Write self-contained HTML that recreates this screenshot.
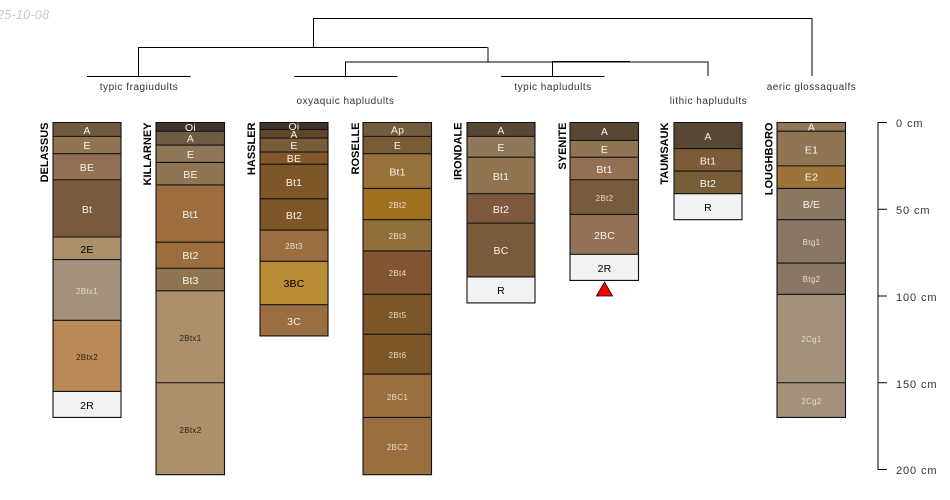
<!DOCTYPE html>
<html><head><meta charset="utf-8">
<style>
html,body{margin:0;padding:0;background:#fff}
svg{display:block}
text{font-family:"Liberation Sans",sans-serif}
.l{font-size:10.5px;fill:#f6f2ec;text-anchor:middle;letter-spacing:.2px}
.s{font-size:8px;fill:#e6dccf;text-anchor:middle;letter-spacing:.3px}
.k{fill:#000}
.d{font-size:8px;fill:#2a2118;text-anchor:middle;letter-spacing:.3px}
.n{font-size:11px;font-weight:bold;fill:#000;text-anchor:end}
.t{font-size:10px;fill:#333;text-anchor:middle;letter-spacing:.53px}
.a{font-size:11px;fill:#333;letter-spacing:.9px}
.c{fill:none;stroke:#000;stroke-width:1}
.o{fill:none;stroke:#111;stroke-width:1.1}
</style></head>
<body>
<svg width="950" height="500" viewBox="0 0 950 500" xmlns="http://www.w3.org/2000/svg">
<text x="-3" y="19" font-size="12.5" font-style="italic" fill="#c8c8c8" letter-spacing=".3">25-10-08</text>

<path class="c" d="M313.5 47.5V18.5H812V76M138.5 76V47.5H487.5M488 47.5V62M345.5 76V62H708V76M552.5 76V61.5H630M87 76.5H190.5M294 76.5H397.5M501 76.5H604.5"/>
<text class="t" x="139" y="90">typic fragiudults</text>
<text class="t" x="345.5" y="104">oxyaquic hapludults</text>
<text class="t" x="553" y="90">typic hapludults</text>
<text class="t" x="708.500" y="104">lithic hapludults</text>
<text class="t" x="811.500" y="90">aeric glossaqualfs</text>

<!-- DELASSUS -->
<g>
<rect x="53" y="122.5" width="68" height="15" fill="#705a3f"/>
<rect x="53" y="136.38" width="68" height="18" fill="#907552"/>
<rect x="53" y="153.73" width="68" height="27" fill="#937053"/>
<rect x="53" y="179.76" width="68" height="58" fill="#785a3c"/>
<rect x="53" y="237.01" width="68" height="23" fill="#ab906a"/>
<rect x="53" y="259.57" width="68" height="61" fill="#a2917b"/>
<rect x="53" y="320.29" width="68" height="72" fill="#ba8958"/>
<rect x="53" y="391.43" width="68" height="26.02" fill="#f2f2f2"/>
<path class="o" d="M53 122.5H121V417.45H53ZM53 136.38H121M53 153.73H121M53 179.76H121M53 237.01H121M53 259.57H121M53 320.29H121M53 391.43H121"/>
<text class="l" x="87" y="134">A</text>
<text class="l" x="87" y="149">E</text>
<text class="l" x="87" y="171">BE</text>
<text class="l" x="87" y="213">Bt</text>
<text class="l k" x="87" y="253">2E</text>
<text class="s" x="87" y="294">2Btx1</text>
<text class="d" x="87" y="360">2Btx2</text>
<text class="l k" x="87" y="409">2R</text>
<text class="n" transform="translate(48,122.500) rotate(-90)">DELASSUS</text>
</g>

<!-- KILLARNEY -->
<g>
<rect x="156" y="122.5" width="68.5" height="10" fill="#40352d"/>
<rect x="156" y="131.18" width="68.5" height="15" fill="#6f5c47"/>
<rect x="156" y="145.06" width="68.5" height="18" fill="#8e7659"/>
<rect x="156" y="162.41" width="68.5" height="23" fill="#8f7553"/>
<rect x="156" y="184.96" width="68.5" height="58" fill="#9c6e3f"/>
<rect x="156" y="242.22" width="68.5" height="27" fill="#9c6e3f"/>
<rect x="156" y="268.24" width="68.5" height="23" fill="#8f7552"/>
<rect x="156" y="290.8" width="68.5" height="92" fill="#ab906a"/>
<rect x="156" y="382.75" width="68.5" height="91.96" fill="#ab906a"/>
<path class="o" d="M156 122.5H224.500V474.71H156ZM156 131.18H224.500M156 145.06H224.500M156 162.41H224.500M156 184.96H224.500M156 242.22H224.500M156 268.24H224.500M156 290.8H224.500M156 382.75H224.500"/>
<text class="l" x="190.500" y="131">Oi</text>
<text class="l" x="190.500" y="142">A</text>
<text class="l" x="190.500" y="158">E</text>
<text class="l" x="190.500" y="178">BE</text>
<text class="l" x="190.500" y="218">Bt1</text>
<text class="l" x="190.500" y="259">Bt2</text>
<text class="l" x="190.500" y="284">Bt3</text>
<text class="d" x="190.500" y="341">2Btx1</text>
<text class="d" x="190.500" y="433">2Btx2</text>
<text class="n" transform="translate(151,122.500) rotate(-90)">KILLARNEY</text>
</g>

<!-- HASSLER -->
<g>
<rect x="260" y="122.5" width="68" height="8" fill="#40352d"/>
<rect x="260" y="129.44" width="68" height="10" fill="#5f4425"/>
<rect x="260" y="138.12" width="68" height="15" fill="#775c38"/>
<rect x="260" y="152" width="68" height="13" fill="#84572a"/>
<rect x="260" y="164.14" width="68" height="35" fill="#7f5629"/>
<rect x="260" y="198.84" width="68" height="32" fill="#7f5629"/>
<rect x="260" y="230.07" width="68" height="32" fill="#9a6e40"/>
<rect x="260" y="261.3" width="68" height="44" fill="#b98c37"/>
<rect x="260" y="304.68" width="68" height="31.22" fill="#9a6e40"/>
<path class="o" d="M260 122.5H328V335.9H260ZM260 129.44H328M260 138.12H328M260 152H328M260 164.14H328M260 198.84H328M260 230.07H328M260 261.3H328M260 304.68H328"/>
<text class="l" x="294" y="130">Oi</text>
<text class="l" x="294" y="138">A</text>
<text class="l" x="294" y="149">E</text>
<text class="l" x="294" y="162">BE</text>
<text class="l" x="294" y="186">Bt1</text>
<text class="l" x="294" y="219">Bt2</text>
<text class="s" x="294" y="249">2Bt3</text>
<text class="l k" x="294" y="287">3BC</text>
<text class="l" x="294" y="325">3C</text>
<text class="n" transform="translate(255,122.500) rotate(-90)">HASSLER</text>
</g>

<!-- ROSELLE -->
<g>
<rect x="363" y="122.5" width="68.5" height="15" fill="#735b3e"/>
<rect x="363" y="136.38" width="68.5" height="18" fill="#785c35"/>
<rect x="363" y="153.73" width="68.5" height="35" fill="#977339"/>
<rect x="363" y="188.43" width="68.5" height="32" fill="#9f711f"/>
<rect x="363" y="219.66" width="68.5" height="32" fill="#907038"/>
<rect x="363" y="250.89" width="68.5" height="44" fill="#835431"/>
<rect x="363" y="294.27" width="68.5" height="41" fill="#7c5629"/>
<rect x="363" y="334.17" width="68.5" height="41" fill="#7d5628"/>
<rect x="363" y="374.08" width="68.5" height="44" fill="#9b6e40"/>
<rect x="363" y="417.45" width="68.5" height="57.26" fill="#9b6e40"/>
<path class="o" d="M363 122.5H431.500V474.71H363ZM363 136.38H431.500M363 153.73H431.500M363 188.43H431.500M363 219.66H431.500M363 250.89H431.500M363 294.27H431.500M363 334.17H431.500M363 374.08H431.500M363 417.45H431.500"/>
<text class="l" x="397.500" y="133.500">Ap</text>
<text class="l" x="397.500" y="149">E</text>
<text class="l" x="397.500" y="175.500">Bt1</text>
<text class="s" x="397.500" y="208">2Bt2</text>
<text class="s" x="397.500" y="239">2Bt3</text>
<text class="s" x="397.500" y="276">2Bt4</text>
<text class="s" x="397.500" y="318">2Bt5</text>
<text class="s" x="397.500" y="358">2Bt6</text>
<text class="s" x="397.500" y="400">2BC1</text>
<text class="s" x="397.500" y="450">2BC2</text>
<text class="n" transform="translate(359,122.500) rotate(-90)">ROSELLE</text>
</g>

<!-- IRONDALE -->
<g>
<rect x="467" y="122.5" width="68" height="15" fill="#574735"/>
<rect x="467" y="136.38" width="68" height="22" fill="#8f7759"/>
<rect x="467" y="157.2" width="68" height="37" fill="#8f7450"/>
<rect x="467" y="193.64" width="68" height="30" fill="#7e583f"/>
<rect x="467" y="223.13" width="68" height="54" fill="#795a3b"/>
<rect x="467" y="276.92" width="68" height="26.02" fill="#f2f2f2"/>
<path class="o" d="M467 122.5H535V302.94H467ZM467 136.38H535M467 157.2H535M467 193.64H535M467 223.13H535M467 276.92H535"/>
<text class="l" x="501" y="134">A</text>
<text class="l" x="501" y="151">E</text>
<text class="l" x="501" y="180">Bt1</text>
<text class="l" x="501" y="213">Bt2</text>
<text class="l" x="501" y="254">BC</text>
<text class="l k" x="501" y="294">R</text>
<text class="n" transform="translate(461.500,122.500) rotate(-90)">IRONDALE</text>
</g>

<!-- SYENITE -->
<g>
<rect x="570" y="122.5" width="68.5" height="19" fill="#574735"/>
<rect x="570" y="140.4" width="68.5" height="18" fill="#907552"/>
<rect x="570" y="157.2" width="68.5" height="23" fill="#937053"/>
<rect x="570" y="179.76" width="68.5" height="35" fill="#785a3c"/>
<rect x="570" y="214.46" width="68.5" height="40" fill="#937256"/>
<rect x="570" y="254.36" width="68.5" height="26.03" fill="#f2f2f2"/>
<path class="o" d="M570 122.5H638.500V280.39H570ZM570 140.4H638.500M570 157.2H638.500M570 179.76H638.500M570 214.46H638.500M570 254.36H638.500"/>
<text class="l" x="604.500" y="135">A</text>
<text class="l" x="604.500" y="153">E</text>
<text class="l" x="604.500" y="173">Bt1</text>
<text class="s" x="604.500" y="201">2Bt2</text>
<text class="l" x="604.500" y="239">2BC</text>
<text class="l k" x="604.500" y="272">2R</text>
<text class="n" transform="translate(566,122.500) rotate(-90)">SYENITE</text>
<polygon points="604.500,282 612.500,296 596.500,296" fill="#f00" stroke="#000" stroke-width="0.8"/>
</g>

<!-- TAUMSAUK -->
<g>
<rect x="674" y="122.5" width="68" height="27" fill="#574735"/>
<rect x="674" y="148.53" width="68" height="23" fill="#7c5a3a"/>
<rect x="674" y="171.08" width="68" height="23" fill="#775c38"/>
<rect x="674" y="193.64" width="68" height="26.02" fill="#f2f2f2"/>
<path class="o" d="M674 122.5H742V219.66H674ZM674 148.53H742M674 171.08H742M674 193.64H742"/>
<text class="l" x="708" y="140">A</text>
<text class="l" x="708" y="164.500">Bt1</text>
<text class="l" x="708" y="187">Bt2</text>
<text class="l k" x="708" y="211">R</text>
<text class="n" transform="translate(668,122.500) rotate(-90)">TAUMSAUK</text>
</g>

<!-- LOUGHBORO -->
<g>
<rect x="777" y="122.5" width="68.5" height="10" fill="#907759"/>
<rect x="777" y="131.18" width="68.5" height="35" fill="#907552"/>
<rect x="777" y="165.88" width="68.5" height="23" fill="#9c7437"/>
<rect x="777" y="188.43" width="68.5" height="32" fill="#8a7862"/>
<rect x="777" y="219.66" width="68.5" height="44" fill="#887762"/>
<rect x="777" y="263.04" width="68.5" height="32" fill="#887762"/>
<rect x="777" y="294.27" width="68.5" height="89" fill="#a2917b"/>
<rect x="777" y="382.75" width="68.5" height="34.7" fill="#a2917b"/>
<path class="o" d="M777 122.5H845.500V417.45H777ZM777 131.18H845.500M777 165.88H845.500M777 188.43H845.500M777 219.66H845.500M777 263.04H845.500M777 294.27H845.500M777 382.75H845.500"/>
<text class="l" x="811.500" y="130.500">A</text>
<text class="l" x="811.500" y="153.500">E1</text>
<text class="l" x="811.500" y="180.500">E2</text>
<text class="l" x="811.500" y="208">B/E</text>
<text class="s" x="811.500" y="245">Btg1</text>
<text class="s" x="811.500" y="282">Btg2</text>
<text class="s" x="811.500" y="342">2Cg1</text>
<text class="s" x="811.500" y="404">2Cg2</text>
<text class="n" transform="translate(772.500,122.500) rotate(-90)">LOUGHBORO</text>
</g>

<!-- depth axis -->
<path class="c" d="M887 122.500H878V469.500H887M878 209.250H887M878 296H887M878 382.750H887"/>
<text class="a" x="896" y="127">0 cm</text>
<text class="a" x="896" y="214">50 cm</text>
<text class="a" x="896" y="301">100 cm</text>
<text class="a" x="896" y="388">150 cm</text>
<text class="a" x="896" y="474">200 cm</text>
</svg>
</body></html>
